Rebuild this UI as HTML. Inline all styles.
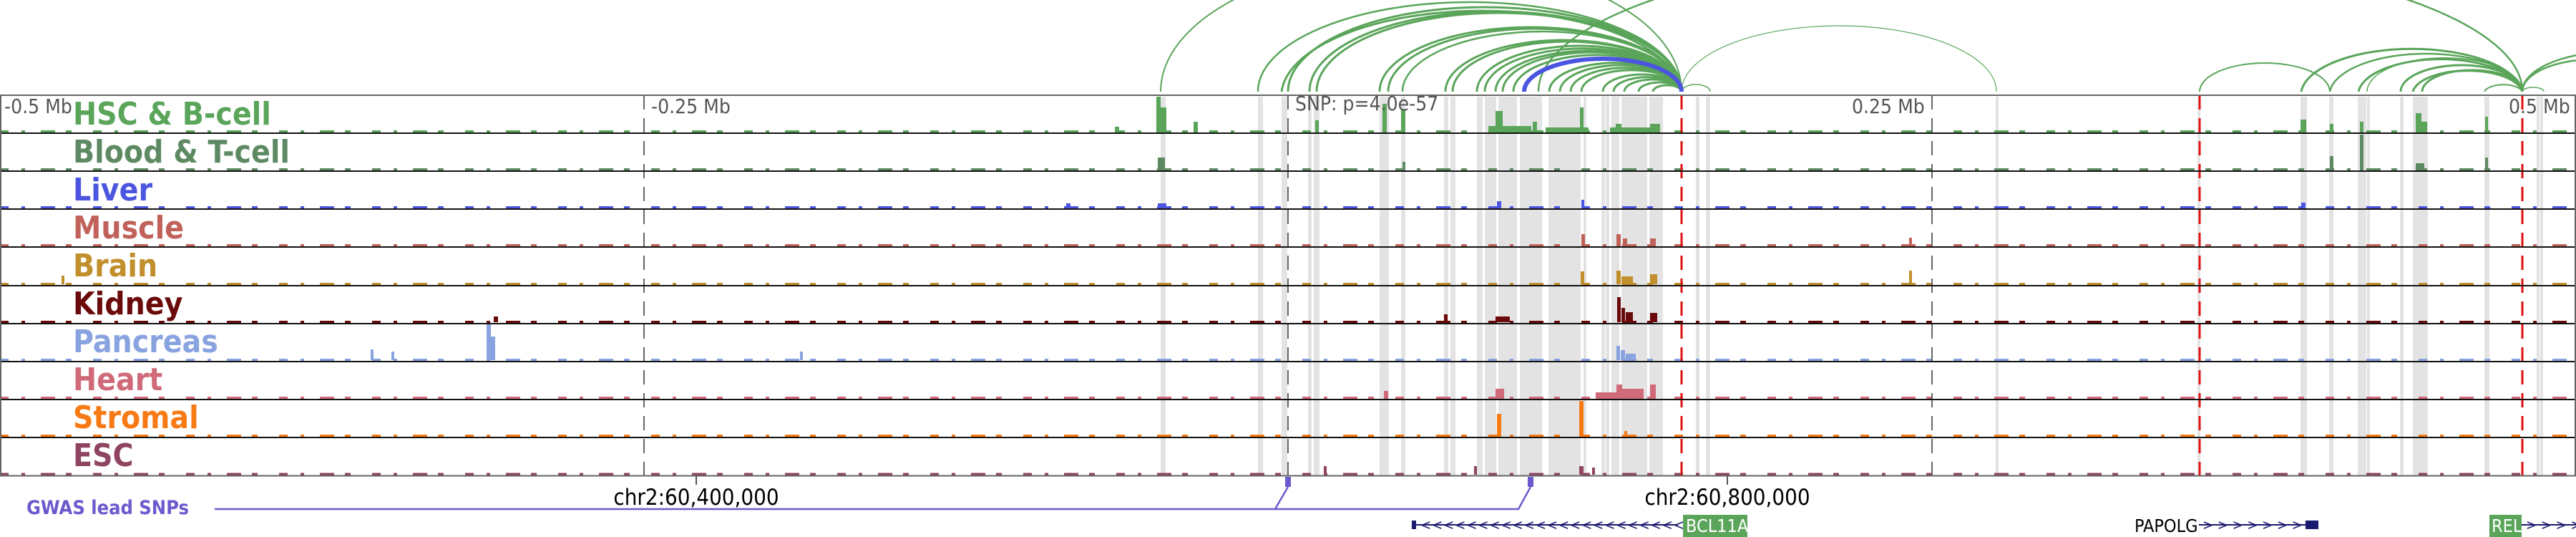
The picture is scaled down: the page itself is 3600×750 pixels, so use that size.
<!DOCTYPE html>
<html><head><meta charset="utf-8"><style>
html,body{margin:0;padding:0;background:#fff}
svg{display:block}
text{font-family:"DejaVu Sans Condensed","DejaVu Sans","Liberation Sans",sans-serif;font-stretch:condensed}
.lab{font-weight:bold;font-size:44px}
.tk{font-size:28px;fill:#555}
</style></head><body>
<svg width="3600" height="750" viewBox="0 0 3600 750" xmlns="http://www.w3.org/2000/svg">
<defs><clipPath id="top"><rect x="0" y="0" width="3600" height="131"/></clipPath></defs>
<g clip-path="url(#top)" fill="none" stroke="#5aa55a" stroke-width="2">
<path d="M1622,128 A364,185 0 0 1 2350,128"/>
<path d="M1758,128 A296,125 0 0 1 2350,128" stroke-width="2.5"/>
<path d="M1791,128 A280,120 0 0 1 2350,128" stroke-width="3"/>
<path d="M1800,128 A275,118 0 0 1 2350,128" stroke-width="3"/>
<path d="M1830,128 A260,112 0 0 1 2350,128" stroke-width="3"/>
<path d="M1840,128 A255,110 0 0 1 2350,128" stroke-width="3"/>
<path d="M1928,128 A211,90 0 0 1 2350,128" stroke-width="3"/>
<path d="M1940,128 A205,88 0 0 1 2350,128" stroke-width="3"/>
<path d="M1960,128 A195,84 0 0 1 2350,128" stroke-width="2.5"/>
<path d="M2020,128 A165,72 0 0 1 2350,128" stroke-width="3"/>
<path d="M2030,128 A160,70 0 0 1 2350,128" stroke-width="3"/>
<path d="M2064,128 A143,64 0 0 1 2350,128" stroke-width="3"/>
<path d="M2075,128 A137,60 0 0 1 2350,128" stroke-width="3"/>
<path d="M2090,128 A130,57 0 0 1 2350,128" stroke-width="3"/>
<path d="M2100,128 A125,55 0 0 1 2350,128" stroke-width="3"/>
<path d="M2115,128 A117,51 0 0 1 2350,128" stroke-width="3"/>
<path d="M2165,128 A92,40 0 0 1 2350,128" stroke-width="3"/>
<path d="M2180,128 A85,37 0 0 1 2350,128" stroke-width="3"/>
<path d="M2195,128 A77,33 0 0 1 2350,128" stroke-width="3"/>
<path d="M2210,128 A70,30 0 0 1 2350,128" stroke-width="3"/>
<path d="M2240,128 A55,24 0 0 1 2350,128" stroke-width="3"/>
<path d="M2255,128 A47,20 0 0 1 2350,128" stroke-width="3"/>
<path d="M2270,128 A40,17 0 0 1 2350,128" stroke-width="3"/>
<path d="M2290,128 A30,13 0 0 1 2350,128" stroke-width="3"/>
<path d="M2310,128 A20,9 0 0 1 2350,128" stroke-width="3"/>
<path d="M2150,128 A687,200 0 0 1 3525,128" stroke-width="2.5"/>
<path d="M2350,128 A20,10 0 0 1 2390,128" stroke-width="1.5"/>
<path d="M2350,128 A220,92 0 0 1 2790,128" stroke-width="1.2"/>
<path d="M3074,128 A91,40 0 0 1 3256,128"/>
<path d="M3216,128 A155,65 0 0 1 3525,128" stroke-width="3"/>
<path d="M3256,128 A135,58 0 0 1 3525,128" stroke-width="2.5"/>
<path d="M3296,128 A115,50 0 0 1 3525,128" stroke-width="3"/>
<path d="M3308,128 A108,47 0 0 1 3525,128" stroke-width="1.5"/>
<path d="M3355,128 A85,37 0 0 1 3525,128" stroke-width="3"/>
<path d="M3372,128 A77,33 0 0 1 3525,128" stroke-width="3"/>
<path d="M3385,128 A70,30 0 0 1 3525,128" stroke-width="3"/>
<path d="M3472,128 A27,12 0 0 1 3525,128" stroke-width="2"/>
<path d="M3525,128 A15,6 0 0 1 3555,128" stroke-width="1.5"/>
<path d="M3525,128 A100,45 0 0 1 3725,128" stroke-width="2.5"/>
<path d="M3525,128 A130,56 0 0 1 3785,128" stroke-width="2.5"/>
</g>
<g clip-path="url(#top)" fill="none" stroke="#4b55e0" stroke-width="6">
<path d="M2130,128 A110,46 0 0 1 2350,128"/>
</g>
<g fill="#e3e3e3">
<rect x="1622" y="135" width="7" height="530"/><rect x="1758" y="135" width="7" height="530"/>
<rect x="1791" y="135" width="8" height="530"/><rect x="1828" y="135" width="5" height="530"/>
<rect x="1836" y="135" width="8" height="530"/><rect x="1928" y="135" width="13" height="530"/>
<rect x="1958" y="135" width="6" height="530"/><rect x="2018" y="135" width="6" height="530"/>
<rect x="2027" y="135" width="7" height="530"/><rect x="2064" y="135" width="8" height="530"/>
<rect x="2075" y="135" width="16" height="530"/><rect x="2094" y="135" width="26" height="530"/>
<rect x="2124" y="135" width="31" height="530"/><rect x="2164" y="135" width="45" height="530"/>
<rect x="2213" y="135" width="4" height="530"/><rect x="2238" y="135" width="5" height="530"/>
<rect x="2244" y="135" width="5" height="530"/><rect x="2252" y="135" width="11" height="530"/>
<rect x="2266" y="135" width="36" height="530"/><rect x="2305" y="135" width="19" height="530"/>
<rect x="2370" y="135" width="5" height="530"/><rect x="2384" y="135" width="6" height="530"/>
<rect x="2789" y="135" width="4" height="530"/><rect x="3071" y="135" width="4" height="530"/>
<rect x="3215" y="135" width="9" height="530"/><rect x="3255" y="135" width="6" height="530"/>
<rect x="3295" y="135" width="12" height="530"/><rect x="3308" y="135" width="4" height="530"/>
<rect x="3354" y="135" width="5" height="530"/><rect x="3372" y="135" width="21" height="530"/>
<rect x="3472" y="135" width="7" height="530"/><rect x="3545" y="135" width="4" height="530"/>
<rect x="3550" y="135" width="4" height="530"/>
</g>
<!-- baseline noise -->
<g stroke-width="3" stroke-dasharray="12,18,5,22,20,15,8,30" fill="none">
<line x1="0" y1="183.5" x2="3600" y2="183.5" stroke="#5aa55a"/>
<line x1="0" y1="236.5" x2="3600" y2="236.5" stroke="#5e8a63"/>
<line x1="0" y1="289.5" x2="3600" y2="289.5" stroke="#4b55e0"/>
<line x1="0" y1="342.5" x2="3600" y2="342.5" stroke="#c0625a"/>
<line x1="0" y1="396.5" x2="3600" y2="396.5" stroke="#c18f2c"/>
<line x1="0" y1="449.5" x2="3600" y2="449.5" stroke="#6b0a0a"/>
<line x1="0" y1="502.5" x2="3600" y2="502.5" stroke="#88a3e0"/>
<line x1="0" y1="555.5" x2="3600" y2="555.5" stroke="#d06a78"/>
<line x1="0" y1="608.5" x2="3600" y2="608.5" stroke="#f77a14"/>
<line x1="0" y1="662" x2="3600" y2="662" stroke="#8f4462"/>
</g>
<g fill="#5aa55a">
<rect x="1616" y="135" width="6" height="50"/><rect x="1622" y="150" width="8" height="35"/><rect x="1668" y="170" width="6" height="15"/>
<rect x="1838" y="168" width="5" height="17"/><rect x="1932" y="145" width="6" height="40"/><rect x="1958" y="153" width="6" height="32"/>
<rect x="2090" y="155" width="10" height="30"/><rect x="2142" y="170" width="6" height="15"/><rect x="2208" y="150" width="5" height="35"/>
<rect x="2258" y="173" width="8" height="12"/><rect x="2306" y="173" width="14" height="12"/><rect x="1558" y="177" width="6" height="8"/>
<rect x="3215" y="167" width="8" height="18"/><rect x="3256" y="173" width="5" height="12"/><rect x="3298" y="170" width="5" height="15"/>
<rect x="3376" y="158" width="8" height="27"/><rect x="3384" y="170" width="8" height="15"/><rect x="3473" y="163" width="4" height="22"/>
<rect x="2080" y="176" width="60" height="9"/><rect x="2160" y="178" width="60" height="7"/><rect x="2250" y="178" width="60" height="7"/>
</g>
<g fill="#5e8a63">
<rect x="1618" y="220" width="10" height="18"/><rect x="1960" y="226" width="4" height="12"/><rect x="3256" y="218" width="5" height="20"/>
<rect x="3298" y="188" width="5" height="50"/><rect x="3376" y="228" width="12" height="10"/><rect x="3473" y="220" width="4" height="18"/>
</g>
<g fill="#4b55e0">
<rect x="1618" y="284" width="12" height="7"/><rect x="2092" y="281" width="6" height="10"/><rect x="2210" y="279" width="4" height="12"/><rect x="3216" y="283" width="6" height="8"/><rect x="1490" y="284" width="6" height="7"/>
</g>
<g fill="#c0625a">
<rect x="2210" y="327" width="5" height="17"/><rect x="2259" y="327" width="6" height="17"/><rect x="2268" y="333" width="6" height="11"/><rect x="2306" y="333" width="8" height="11"/><rect x="2668" y="332" width="4" height="12"/>
</g>
<g fill="#c18f2c">
<rect x="2209" y="379" width="5" height="18"/><rect x="2259" y="378" width="6" height="19"/><rect x="2266" y="386" width="16" height="11"/><rect x="2306" y="383" width="10" height="14"/><rect x="2668" y="378" width="4" height="19"/><rect x="86" y="385" width="4" height="12"/>
</g>
<g fill="#6b0a0a">
<rect x="2260" y="415" width="5" height="35"/><rect x="2266" y="430" width="5" height="20"/><rect x="2272" y="436" width="10" height="14"/><rect x="2306" y="437" width="10" height="13"/><rect x="2018" y="439" width="5" height="11"/><rect x="2090" y="442" width="20" height="8"/><rect x="690" y="442" width="6" height="8"/>
</g>
<g fill="#88a3e0">
<rect x="680" y="451" width="6" height="52"/><rect x="686" y="470" width="6" height="33"/><rect x="518" y="488" width="4" height="15"/><rect x="547" y="491" width="4" height="12"/><rect x="1118" y="491" width="4" height="12"/>
<rect x="2259" y="483" width="5" height="20"/><rect x="2265" y="489" width="6" height="14"/><rect x="2272" y="494" width="14" height="9"/>
</g>
<g fill="#d06a78">
<rect x="2259" y="537" width="8" height="20"/><rect x="2267" y="543" width="30" height="14"/><rect x="2306" y="537" width="8" height="20"/><rect x="2090" y="543" width="12" height="14"/><rect x="1934" y="546" width="6" height="11"/><rect x="2230" y="548" width="30" height="9"/>
</g>
<g fill="#f77a14">
<rect x="2092" y="578" width="6" height="32"/><rect x="2207" y="560" width="6" height="50"/><rect x="2270" y="602" width="4" height="8"/>
</g>
<g fill="#8f4462">
<rect x="1850" y="651" width="4" height="12"/><rect x="2060" y="651" width="4" height="12"/><rect x="2207" y="651" width="6" height="12"/><rect x="2225" y="653" width="4" height="10"/>
</g>
<g stroke="#666" stroke-width="2" stroke-dasharray="20,12">
<line x1="900" y1="133" x2="900" y2="665"/><line x1="1800" y1="133" x2="1800" y2="665"/><line x1="2700" y1="133" x2="2700" y2="665"/>
</g>
<g stroke="#e01010" stroke-width="3" stroke-dasharray="20,12">
<line x1="2350" y1="133" x2="2350" y2="665"/><line x1="3074" y1="133" x2="3074" y2="665"/><line x1="3525" y1="133" x2="3525" y2="665"/>
</g>
<g stroke="#111" stroke-width="2">
<line x1="0" y1="186" x2="3600" y2="186"/><line x1="0" y1="239" x2="3600" y2="239"/><line x1="0" y1="292" x2="3600" y2="292"/>
<line x1="0" y1="345" x2="3600" y2="345"/><line x1="0" y1="399" x2="3600" y2="399"/><line x1="0" y1="452" x2="3600" y2="452"/>
<line x1="0" y1="505" x2="3600" y2="505"/><line x1="0" y1="558" x2="3600" y2="558"/><line x1="0" y1="611" x2="3600" y2="611"/>
</g>
<line x1="0" y1="664.5" x2="3600" y2="664.5" stroke="#666" stroke-width="2"/>
<line x1="0" y1="133" x2="3600" y2="133" stroke="#666" stroke-width="2"/>
<line x1="1" y1="133" x2="1" y2="665" stroke="#666" stroke-width="2"/>
<line x1="3599" y1="133" x2="3599" y2="665" stroke="#666" stroke-width="2"/>
<text class="lab" x="102" y="174" fill="#5aa55a">HSC &amp; B-cell</text>
<text class="lab" x="102" y="227" fill="#5e8a63">Blood &amp; T-cell</text>
<text class="lab" x="102" y="280" fill="#4b55e0">Liver</text>
<text class="lab" x="102" y="333" fill="#c0625a">Muscle</text>
<text class="lab" x="102" y="386" fill="#c18f2c">Brain</text>
<text class="lab" x="102" y="439" fill="#6b0a0a">Kidney</text>
<text class="lab" x="102" y="492" fill="#88a3e0">Pancreas</text>
<text class="lab" x="102" y="545" fill="#d06a78">Heart</text>
<text class="lab" x="102" y="598" fill="#f77a14">Stromal</text>
<text class="lab" x="102" y="651" fill="#8f4462">ESC</text>
<text class="tk" x="6" y="158">-0.5 Mb</text>
<text class="tk" x="910" y="158">-0.25 Mb</text>
<text class="tk" x="1810" y="154">SNP: p=4.0e-57</text>
<text class="tk" x="2588" y="158">0.25 Mb</text>
<text class="tk" x="3506" y="158">0.5 Mb</text>
<line x1="973" y1="665" x2="973" y2="677" stroke="#555" stroke-width="2"/>
<line x1="2414" y1="665" x2="2414" y2="677" stroke="#555" stroke-width="2"/>
<text x="973" y="705" font-size="31" text-anchor="middle" fill="#000">chr2:60,400,000</text>
<text x="2414" y="705" font-size="31" text-anchor="middle" fill="#000">chr2:60,800,000</text>
<text x="37" y="718" font-size="27" font-weight="bold" fill="#6a5acd">GWAS lead SNPs</text>
<g stroke="#6a5acd" stroke-width="2.5" fill="none">
<polyline points="300,711 1782,711 1800,680"/>
<polyline points="1782,711 2122,711 2139,680"/>
</g>
<rect x="1796" y="666" width="8" height="14" fill="#6a5acd"/>
<rect x="2135" y="666" width="8" height="14" fill="#6a5acd"/>
<line x1="1976" y1="733" x2="2345" y2="733" stroke="#1a1a6e" stroke-width="2"/>
<rect x="1973" y="727" width="6" height="12" fill="#1a1a6e"/>
<text x="1985" y="740" font-size="20" fill="#1a1a6e" letter-spacing="1">&lt;&lt;&lt;&lt;&lt;&lt;&lt;&lt;&lt;&lt;&lt;&lt;&lt;&lt;&lt;&lt;&lt;&lt;&lt;&lt;&lt;&lt;&lt;&lt;&lt;&lt;&lt;</text>
<rect x="2352" y="719" width="90" height="31" fill="#5aa55a"/>
<text x="2356" y="743" font-size="25" fill="#fff">BCL11A</text>
<text x="2983" y="743" font-size="25" fill="#000">PAPOLG</text>
<line x1="3073" y1="733" x2="3225" y2="733" stroke="#1a1a6e" stroke-width="2"/>
<text x="3078" y="740" font-size="20" fill="#1a1a6e">&gt; &gt; &gt; &gt; &gt; &gt; &gt;</text>
<rect x="3222" y="727" width="18" height="12" fill="#1a1a6e"/>
<rect x="3479" y="719" width="45" height="31" fill="#5aa55a"/>
<text x="3482" y="743" font-size="25" fill="#fff">REL</text>
<line x1="3524" y1="733" x2="3600" y2="733" stroke="#1a1a6e" stroke-width="2"/>
<text x="3530" y="740" font-size="20" fill="#1a1a6e">&gt; &gt; &gt; &gt;</text>
</svg>
</body></html>
